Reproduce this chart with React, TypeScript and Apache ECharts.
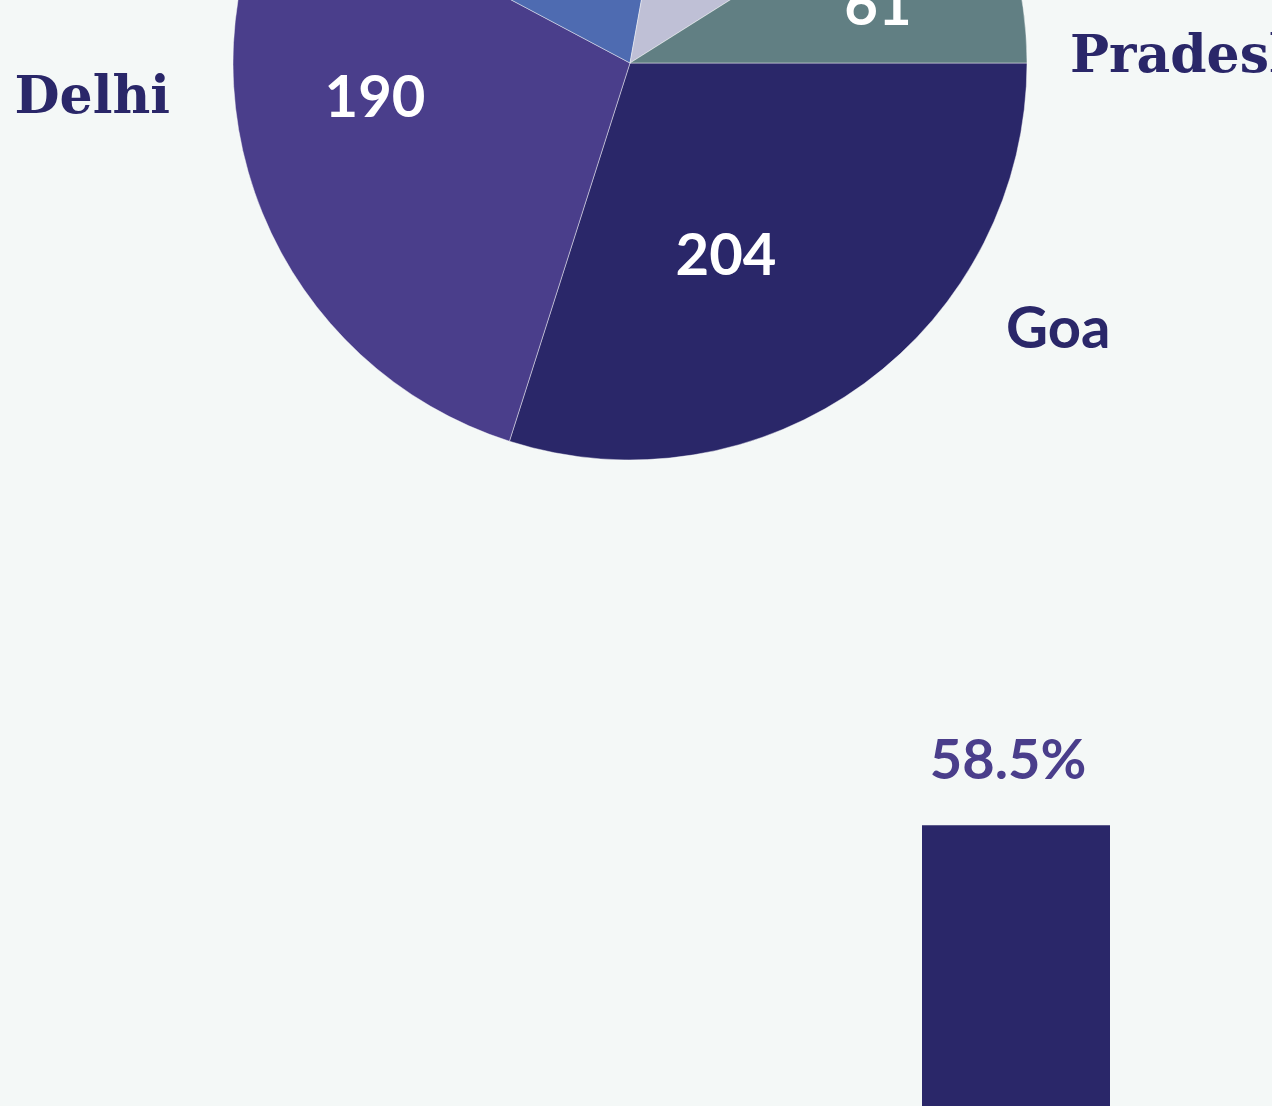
import React, { useEffect, useRef } from "react";
import * as echarts from "echarts";

// ---- data ----
const pieNames = ["Goa", "Delhi", "Kerala", "Punjab", "Pradesh"];
const pieValues = [204, 190, 137, 90, 61];
const barCategories = ["Goa"];
const barValues = [58.5];

// ---- styles / layout ----
const pieColors = ["#2a2769", "#4a3e8b", "#4e6bb1", "#bfc0d6", "#617f83"];
const BG = "#f4f8f7";
const NAVY = "#2a2769";
const PURPLE = "#4a3e8b";
const innerLabelPos: Record<number, [number, number]> = {
  0: [726, 252],
  1: [375, 94],
  4: [878, 2],
};
const outerLabelPos: Record<number, [number, number, string]> = {
  0: [1006, 325, "left"],
  1: [170, 94, "right"],
  4: [1070, 53, "left"],
};
const outerFonts: Record<number, string> = {
  0: "Lato",
  1: '"DejaVu Serif", serif',
  4: '"DejaVu Serif", serif',
};

export default function App() {
  const ref = useRef<HTMLDivElement>(null);
  useEffect(() => {
    if (!ref.current) return;
    const chart = echarts.init(ref.current, undefined, { renderer: "svg" });
    const pieData = pieNames.map((n, i) => ({
      name: n,
      value: pieValues[i],
      itemStyle: { color: pieColors[i] },
      label: { show: innerLabelPos[i] !== undefined },
    }));
    const outerData = pieNames.map((n, i) => ({
      name: n,
      value: pieValues[i],
      label: {
        show: outerLabelPos[i] !== undefined,
        fontFamily: outerFonts[i] || '"DejaVu Serif", serif',
        fontWeight: "bold" as const,
        fontSize: i === 0 ? 58 : 52,
      },
    }));
    chart.setOption({
      animation: false,
      backgroundColor: BG,
      grid: { left: 922, width: 188, top: 626, bottom: 0, containLabel: false },
      xAxis: { type: "category", data: barCategories, show: false },
      yAxis: { type: "value", min: 0, max: 100, show: false },
      series: [
        {
          type: "pie",
          center: [630, 63],
          radius: [0, 397],
          startAngle: 0,
          clockwise: true,
          avoidLabelOverlap: false,
          data: pieData,
          itemStyle: { borderColor: "rgba(255,255,255,0.55)", borderWidth: 0.8 },
          label: {
            show: true,
            position: "inside",
            formatter: "{c}",
            color: "#ffffff",
            fontFamily: "Lato",
            fontWeight: "bold",
            fontSize: 58,
          },
          labelLine: { show: false },
          labelLayout: (p: any) => {
            const pos = innerLabelPos[p.dataIndex];
            return pos ? { x: pos[0], y: pos[1], align: "center", verticalAlign: "middle" } : {};
          },
          z: 2,
        },
        {
          type: "pie",
          center: [630, 63],
          radius: [0, 397],
          startAngle: 0,
          clockwise: true,
          silent: true,
          avoidLabelOverlap: false,
          data: outerData,
          itemStyle: { color: "rgba(0,0,0,0)" },
          label: {
            show: true,
            position: "outside",
            formatter: "{b}",
            color: NAVY,
          },
          labelLine: { show: false },
          labelLayout: (p: any) => {
            const pos = outerLabelPos[p.dataIndex];
            return pos ? { x: pos[0], y: pos[1], align: pos[2], verticalAlign: "middle" } : {};
          },
          z: 3,
        },
        {
          type: "bar",
          data: barValues,
          barCategoryGap: "0%",
          itemStyle: { color: NAVY },
          label: {
            show: true,
            position: "top",
            distance: 40,
            offset: [-8, 0],
            formatter: "{c}%",
            color: PURPLE,
            fontFamily: "Lato",
            fontWeight: "bold",
            fontSize: 56,
          },
        },
      ],
    });
    return () => chart.dispose();
  }, []);
  return (
    <div
      ref={ref}
      style={{ position: "absolute", left: 0, top: 0, width: 1272, height: 1106 }}
    />
  );
}
